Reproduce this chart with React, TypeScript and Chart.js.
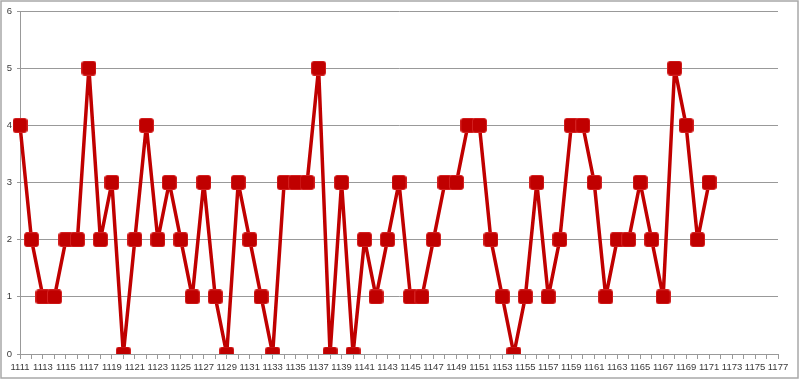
import React, { useEffect, useRef } from "react";
import { Chart, registerables } from "chart.js";

Chart.register(...registerables);

const categories: string[] = [];
for (let y = 1111; y <= 1177; y++) categories.push(String(y));

const values: number[] = [
  4, 2, 1, 1, 2, 2, 5, 2, 3, 0,
  2, 4, 2, 3, 2, 1, 3, 1, 0, 3,
  2, 1, 0, 3, 3, 3, 5, 0, 3, 0,
  2, 1, 2, 3, 1, 1, 2, 3, 3, 4,
  4, 2, 1, 0, 1, 3, 1, 2, 4, 4,
  3, 1, 2, 2, 3, 2, 1, 5, 4, 2,
  3,
];

const yTicks = [0, 1, 2, 3, 4, 5, 6];

function makeMarker(): HTMLCanvasElement {
  const c = document.createElement("canvas");
  const s = 15;
  c.width = s;
  c.height = s;
  const ctx = c.getContext("2d")!;
  const r = 2.5;
  const x = 0.5, y = 0.5, w = s - 1, h = s - 1;
  ctx.beginPath();
  ctx.moveTo(x + r, y);
  ctx.lineTo(x + w - r, y);
  ctx.quadraticCurveTo(x + w, y, x + w, y + r);
  ctx.lineTo(x + w, y + h - r);
  ctx.quadraticCurveTo(x + w, y + h, x + w - r, y + h);
  ctx.lineTo(x + r, y + h);
  ctx.quadraticCurveTo(x, y + h, x, y + h - r);
  ctx.lineTo(x, y + r);
  ctx.quadraticCurveTo(x, y, x + r, y);
  ctx.closePath();
  ctx.fillStyle = "#C00000";
  ctx.fill();
  ctx.strokeStyle = "#D42020";
  ctx.lineWidth = 1;
  ctx.stroke();
  return c;
}

const borderPlugin = {
  id: "outerBorder",
  afterDraw(chart: any) {
    const ctx = chart.ctx;
    ctx.save();
    ctx.strokeStyle = "#A8A8A8";
    ctx.lineWidth = 1.5;
    ctx.strokeRect(1, 1, chart.width - 3, chart.height - 3);
    ctx.restore();
  },
};

export default function App() {
  const ref = useRef<HTMLCanvasElement>(null);
  useEffect(() => {
    if (!ref.current) return;
    const marker = makeMarker();
    const chart = new Chart(ref.current, {
      type: "line",
      data: {
        labels: categories,
        datasets: [
          {
            data: values,
            borderColor: "#C00000",
            borderWidth: 3.5,
            borderJoinStyle: "round",
            borderCapStyle: "round",
            tension: 0,
            pointStyle: marker as any,
            pointRadius: 7,
            pointHoverRadius: 7,
            backgroundColor: "#C00000",
          },
        ],
      },
      options: {
        responsive: false,
        animation: false,
        devicePixelRatio: 1,
        layout: { padding: { top: 11, right: 22, left: 0, bottom: 0 } },
        plugins: { legend: { display: false }, tooltip: { enabled: false } },
        scales: {
          x: {
            type: "category",
            offset: false,
            afterFit: (s: any) => {
              s.height = 26;
            },
            grid: {
              drawOnChartArea: false,
              drawTicks: true,
              tickLength: 5,
              tickColor: "#999999",
            },
            border: { display: true, color: "#999999", width: 1 },
            ticks: {
              autoSkip: false,
              maxRotation: 0,
              minRotation: 0,
              padding: 3,
              color: "#3a3a3a",
              font: { family: "'Liberation Sans', Arial, sans-serif", size: 9.5 },
              callback: (_v: any, i: number) => (i % 2 === 0 ? categories[i] : ""),
            },
          },
          y: {
            min: 0,
            max: 6,
            afterFit: (s: any) => {
              s.width = 20;
            },
            afterBuildTicks: (s: any) => {
              s.ticks = yTicks.map((v) => ({ value: v }));
            },
            grid: {
              color: "#999999",
              lineWidth: 1,
              drawTicks: true,
              tickLength: 3,
            },
            border: { display: true, color: "#999999", width: 1 },
            ticks: {
              padding: 5,
              color: "#3a3a3a",
              font: { family: "'Liberation Sans', Arial, sans-serif", size: 9.5 },
            },
          },
        },
      },
      plugins: [borderPlugin],
    });
    return () => chart.destroy();
  }, []);
  return (
    <div style={{ position: "fixed", left: 0, top: 0, width: 800, height: 380, background: "#fff" }}>
      <canvas ref={ref} width={800} height={380} style={{ width: 800, height: 380 }} />
    </div>
  );
}
